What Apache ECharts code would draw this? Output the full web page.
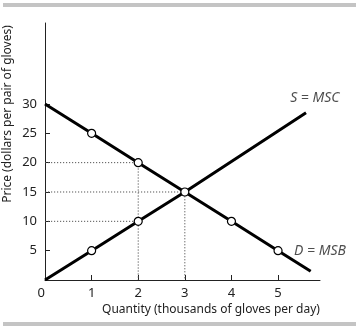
<!DOCTYPE html>
<html>
<head>
<meta charset="utf-8">
<script src="https://cdn.jsdelivr.net/npm/echarts@6/dist/echarts.min.js"></script>
<style>
html,body{margin:0;padding:0;background:#fff;}
#chart{width:359px;height:329px;}
</style>
</head>
<body>
<div id="chart"></div>
<script>
// ---- data ----
const xTickValues = [1, 2, 3, 4, 5];
const xLabelValues = [0, 1, 2, 3, 4, 5];
const yTickValues = [5, 10, 15, 20, 25, 30];

const demandQ = [0, 1, 2, 3, 4, 5, 5.7];
const demandP = [30, 25, 20, 15, 10, 5, 1.5];
const supplyQ = [0, 1, 2, 3, 5.6];
const supplyP = [0, 5, 10, 15, 28.5];

const demandDotQ = [1, 2, 4, 5];
const demandDotP = [25, 20, 10, 5];
const supplyDotQ = [1, 2, 3];
const supplyDotP = [5, 10, 15];

// dotted guide lines [q, p] paths
const guide2 = [[0, 20], [2, 20], [2, 0]];
const guide3 = [[0, 15], [3, 15], [3, 0]];
const guide10 = [[0, 10], [2, 10]];

const curveLabels = ['S = MSC', 'D = MSB'];
const curveLabelQ = [5.79, 5.9];
const curveLabelP = [31, 5];

const zip = (a, b) => a.map((v, i) => [v, b[i]]);

const font = 'Noto Sans';
const chart = echarts.init(document.getElementById('chart'), null, {renderer: 'canvas'});

const guideStyle = {color: '#555', width: 1, type: [1.2, 1.8]};
const guideSeries = [guide2, guide3, guide10].map(g => ({
  type: 'line', data: g, symbol: 'none', silent: true, z: 1,
  lineStyle: guideStyle, animation: false
}));

chart.setOption({
  animation: false,
  grid: {left: 45, right: 39, top: 23, bottom: 49},
  xAxis: {
    type: 'value', min: 0, max: 5.9,
    axisLine: {show: true, onZero: false, lineStyle: {color: '#222', width: 1}},
    axisTick: {show: true, inside: true, length: 5, customValues: xTickValues, lineStyle: {color: '#222'}},
    axisLabel: {customValues: xLabelValues, margin: 7, color: '#222', fontSize: 13, fontFamily: font, alignMinLabel: 'right'},
    splitLine: {show: false}
  },
  yAxis: {
    type: 'value', min: 0, max: 43.8,
    axisLine: {show: true, onZero: false, lineStyle: {color: '#222', width: 1}},
    axisTick: {show: true, inside: true, length: 5, customValues: yTickValues, lineStyle: {color: '#222'}},
    axisLabel: {customValues: yTickValues, margin: 8, color: '#222', fontSize: 13, fontFamily: font},
    splitLine: {show: false}
  },
  graphic: [
    {type: 'rect', shape: {x: 3, y: 3, width: 353, height: 4}, style: {fill: '#c4c4c4'}},
    {type: 'rect', shape: {x: 3, y: 322, width: 353, height: 4}, style: {fill: '#c4c4c4'}},
    {type: 'text', x: 8, y: 114, rotation: Math.PI / 2,
      style: {text: 'Price (dollars per pair of gloves)', fill: '#222', font: '12px "Noto Sans"', align: 'center', verticalAlign: 'middle'}},
    {type: 'text', x: 211, y: 310,
      style: {text: 'Quantity (thousands of gloves per day)', fill: '#222', font: '12px "Noto Sans"', align: 'center', verticalAlign: 'middle'}}
  ],
  series: [
    ...guideSeries,
    {type: 'line', data: zip(demandQ, demandP), symbol: 'none', z: 3, lineStyle: {color: '#000', width: 3}},
    {type: 'line', data: zip(supplyQ, supplyP), symbol: 'none', z: 3, lineStyle: {color: '#000', width: 3}},
    {type: 'scatter', data: zip(demandDotQ, demandDotP).concat(zip(supplyDotQ, supplyDotP)),
      symbol: 'circle', symbolSize: 8, z: 5,
      itemStyle: {color: '#fff', borderColor: '#000', borderWidth: 1.2, opacity: 1}},
    {type: 'scatter', z: 6, symbolSize: 0, clip: false,
      data: curveLabels.map((t, i) => ({name: t, value: [curveLabelQ[i], curveLabelP[i]]})),
      label: {show: true, position: 'inside', formatter: p => p.name, color: '#222',
        fontSize: 14, fontStyle: 'italic', fontFamily: font}}
  ]
});
</script>
</body>
</html>
